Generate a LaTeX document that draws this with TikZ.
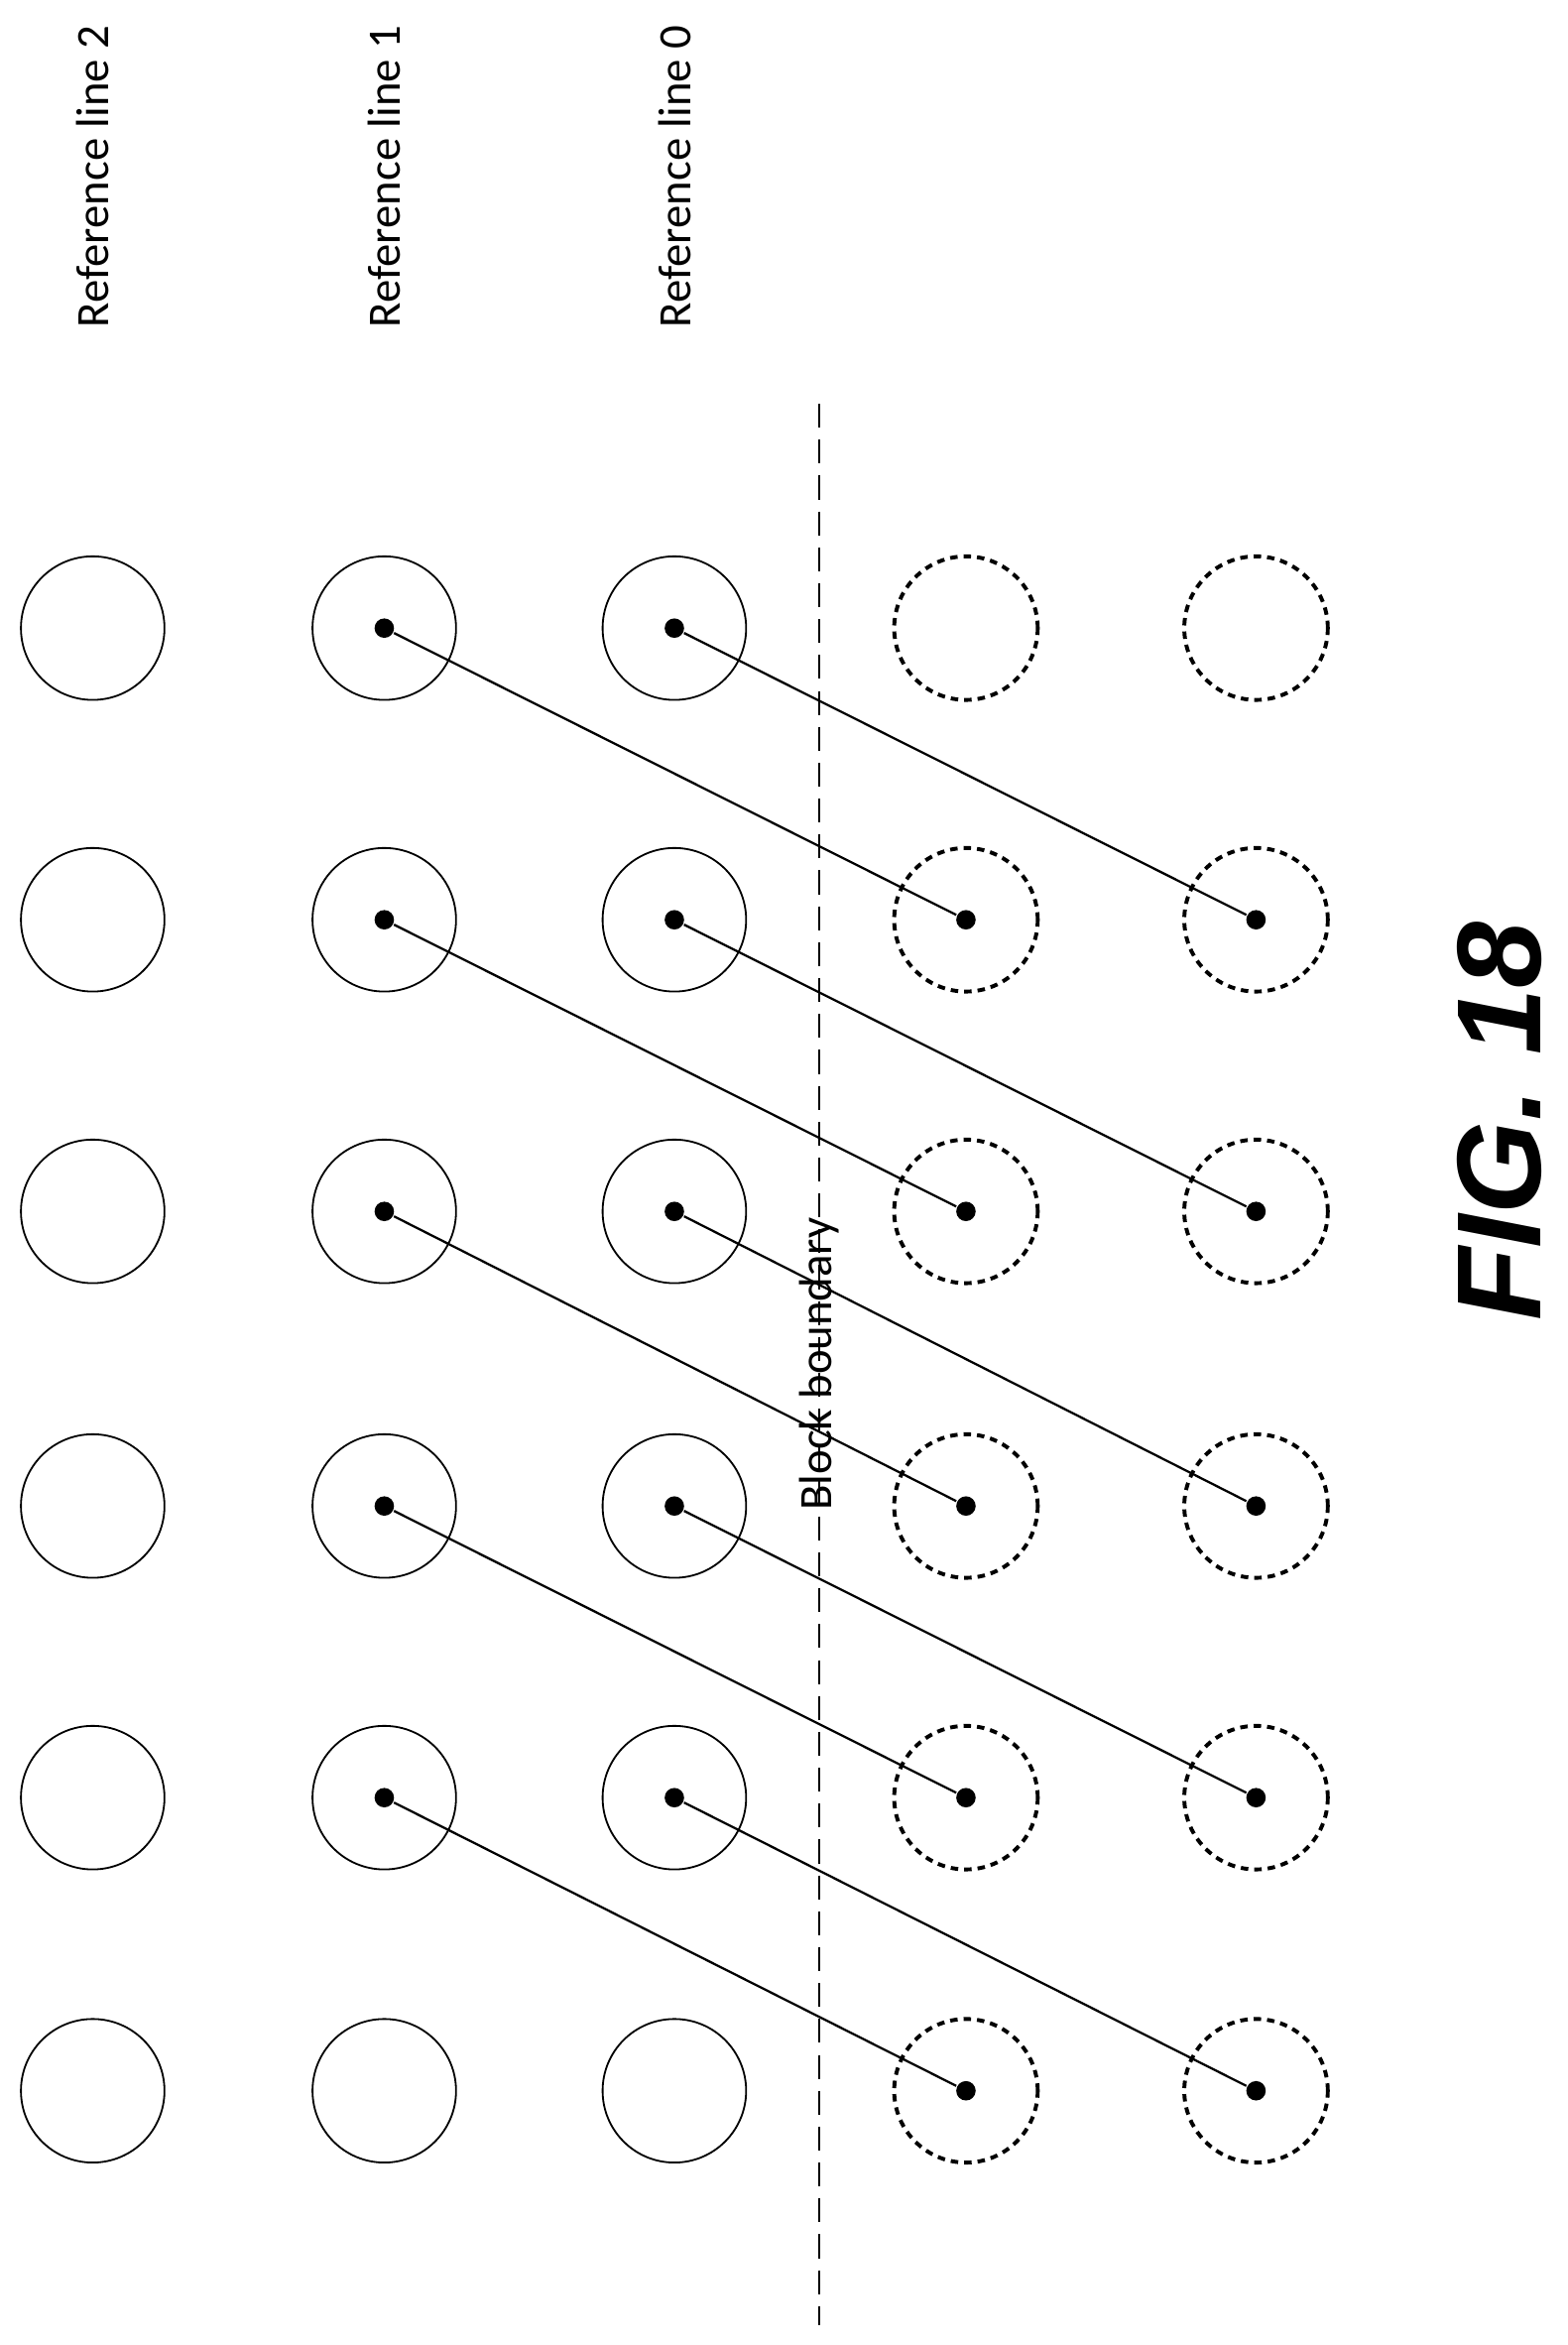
\documentclass[tikz,border=0pt]{standalone}
\usepackage{fontspec}
\setmainfont{Carlito}
\newfontfamily\figfont{Liberation Sans}
\tikzset{every picture/.style={line width=1.5pt}}
\tikzset{
  sample/.style={circle,draw,line width=1.2pt,minimum size=96pt,inner sep=0pt},
  padsample/.style={sample,dash pattern=on 5pt off 4pt,line width=2.6pt},
  pix/.style={circle,fill,inner sep=0pt,minimum size=13pt},
  lbl/.style={rotate=90,font=\fontsize{31}{36}\selectfont}
}
\begin{document}
\begin{tikzpicture}[x=1pt,y=1pt,yscale=-1,xscale=1]
		\useasboundingbox (0,0) rectangle (1048,1568);
		
		% sample grid
		\foreach \c/\x in {0/62,1/257,2/451}
		  \foreach \r/\y in {0/420,1/615,2/810,3/1007,4/1202,5/1398}
		    \node [sample] (s\c\r) at (\x,\y) {};
		\foreach \c/\x in {3/646,4/840}
		  \foreach \r/\y in {0/420,1/615,2/810,3/1007,4/1202,5/1398}
		    \node [padsample] (s\c\r) at (\x,\y) {};
		
		% block boundary
		\coordinate (bt) at (548,270);
		\coordinate (bb) at (548,1555);
		\draw [dash pattern=on 16pt off 8pt] (bt) -- (bb);
		\node [lbl] (bl) at (548,912) {Block boundary};
		
		% connections
		\foreach \r [evaluate=\r as \n using int(\r+1)] in {0,...,4} {
		  \node [pix] (p1\r) at (s1\r) {};
		  \node [pix] (p2\r) at (s2\r) {};
		  \node [pix] (p3\n) at (s3\n) {};
		  \node [pix] (p4\n) at (s4\n) {};
		  \draw (p1\r) -- (p3\n);
		  \draw (p2\r) -- (p4\n);
		}
		
		% Text Node
		\node [lbl] (r2) at (62,118) {Reference line 2};
		\node [lbl] (r1) at (257,118) {Reference line 1};
		\node [lbl] (r0) at (451,118) {Reference line 0};
		\node [rotate=90,font=\figfont\bfseries\itshape\fontsize{80}{90}\selectfont] (fig) at (1003,750) {FIG. 18};
		
\end{tikzpicture}
\end{document}
